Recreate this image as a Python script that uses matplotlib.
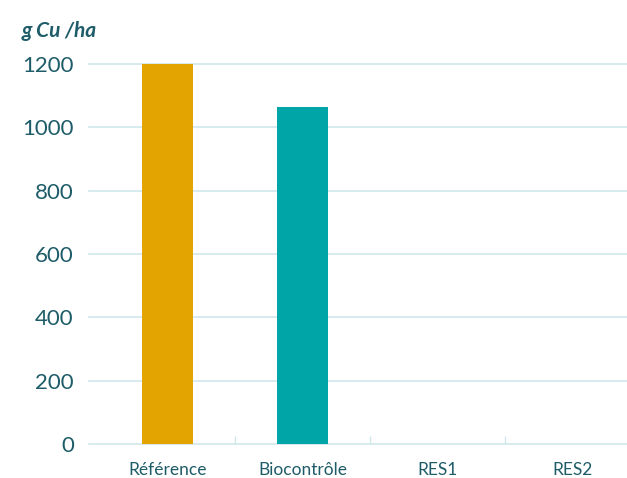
import matplotlib
matplotlib.use("Agg")
import matplotlib.pyplot as plt

categories = ["Référence", "Biocontrôle", "RES1", "RES2"]
values = [1200, 1065, 0, 0]
bar_colors = ["#E3A300", "#00A5A8", "#00A5A8", "#00A5A8"]
yticks = [0, 200, 400, 600, 800, 1000, 1200]

text_col = "#1D5C68"
grid_col = "#CFE8EC"

plt.rcParams["font.family"] = ["Lato", "DejaVu Sans"]

fig = plt.figure(figsize=(6.27, 4.78), dpi=100)
ax = fig.add_axes([0.142, 0.071, 0.858, 0.795])

x = list(range(len(categories)))
ax.bar(x, values, width=0.38, color=bar_colors, zorder=3)

ax.set_xlim(-0.58, 3.40)
ax.set_ylim(0, 1200)
ax.set_yticks(yticks)
ax.yaxis.grid(True, color=grid_col, linewidth=1.2, zorder=0)
for gl in ax.get_ygridlines():
    gl.set_clip_on(False)
ax.set_xticks(x)
ax.set_xticklabels(categories)
ax.set_xticks([0.5, 1.5, 2.5], minor=True)

for s in ax.spines.values():
    s.set_visible(False)

ax.tick_params(axis="y", length=0, pad=11, labelsize=16, labelcolor=text_col)
ax.tick_params(axis="x", which="major", length=0, pad=13, labelsize=12.5, labelcolor=text_col)
ax.tick_params(axis="x", which="minor", direction="in", length=6, width=1, color=grid_col)

fig.text(0.035, 0.935, "g Cu /ha", fontsize=15, fontweight="bold", fontstyle="italic",
         color=text_col, ha="left", va="center")

fig.savefig("out.png", dpi=100)
